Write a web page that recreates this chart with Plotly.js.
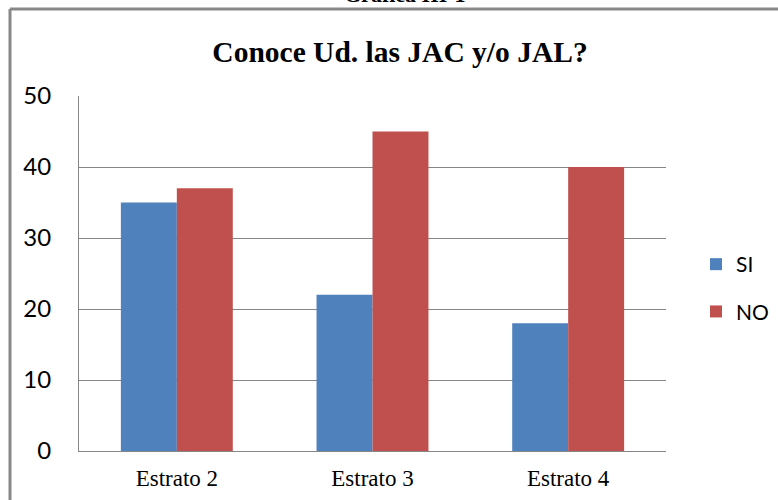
<!DOCTYPE html>
<html>
<head>
<meta charset="utf-8">
<script src="https://cdn.plot.ly/plotly-3.0.1.min.js"></script>
<style>
html,body{margin:0;padding:0;background:#fff;}
#chart{width:778px;height:500px;}
</style>
</head>
<body>
<div id="chart"></div>
<script>
const categories = ["Estrato 2", "Estrato 3", "Estrato 4"];
const siValues = [35, 22, 18];
const noValues = [37, 45, 40];
const seriesNames = ["SI", "NO"];
const chartTitle = "Conoce Ud. las JAC y/o JAL?";
const pageCaption = "Gráfica III-1";

const W = 778, H = 500;
const L = 79, R = 112, T = 96, B = 49;
const pw = W - L - R, ph = H - T - B;
const px = x => (x - L) / pw;
const py = y => (H - B - y) / ph;

const traces = [
  {type: "bar", name: seriesNames[0], x: categories, y: siValues,
   marker: {color: "#4F81BD"}, legendgroup: "a", hoverinfo: "none"},
  {type: "bar", name: seriesNames[1], x: categories, y: noValues,
   marker: {color: "#C0504D"}, legendgroup: "b", hoverinfo: "none"}
];

const layout = {
  width: W, height: H,
  margin: {l: L, r: R, t: T, b: B, pad: 0, autoexpand: false},
  paper_bgcolor: "#ffffff", plot_bgcolor: "#ffffff",
  barmode: "group", bargap: 0.428, bargroupgap: 0,
  title: {text: "<b>" + chartTitle + "</b>", x: 400 / W, xanchor: "center",
          xref: "container", yref: "container", y: 1 - 52 / H, yanchor: "middle",
          font: {family: "Liberation Serif, Times New Roman, serif", size: 29.5, color: "#000"}},
  xaxis: {showline: true, linecolor: "#868686", linewidth: 1, showgrid: false,
          ticks: "", ticklabelstandoff: 6,
          tickfont: {family: "Liberation Serif, Times New Roman, serif", size: 23, color: "#000"}},
  yaxis: {range: [0, 50], dtick: 10, showline: true, linecolor: "#868686", linewidth: 1,
          showgrid: true, gridcolor: "#868686", gridwidth: 1, zeroline: false,
          ticks: "", ticklabelstandoff: 22,
          tickfont: {family: "Lato, Carlito, Calibri, sans-serif", size: 24, color: "#000"}},
  showlegend: true,
  legend: {x: px(696), xanchor: "left", y: py(244), yanchor: "top",
           tracegroupgap: 17, traceorder: "grouped",
           font: {family: "Lato, Carlito, Calibri, sans-serif", size: 21, color: "#000"},
           bgcolor: "rgba(0,0,0,0)"},
  shapes: [
    {type: "line", xref: "paper", yref: "paper", x0: px(10), x1: px(10), y0: py(9), y1: py(560),
     line: {color: "#888888", width: 3}},
    {type: "line", xref: "paper", yref: "paper", x0: px(10), x1: px(820), y0: py(9), y1: py(9),
     line: {color: "#888888", width: 3}}
  ],
  annotations: [
    {text: "<b>" + pageCaption + "</b>", xref: "paper", yref: "paper",
     x: px(405), y: py(8.5), xanchor: "center", yanchor: "bottom", showarrow: false,
     font: {family: "Liberation Serif, Times New Roman, serif", size: 22, color: "#000"}}
  ]
};

Plotly.newPlot("chart", traces, layout, {displayModeBar: false, staticPlot: true});
</script>
</body>
</html>
